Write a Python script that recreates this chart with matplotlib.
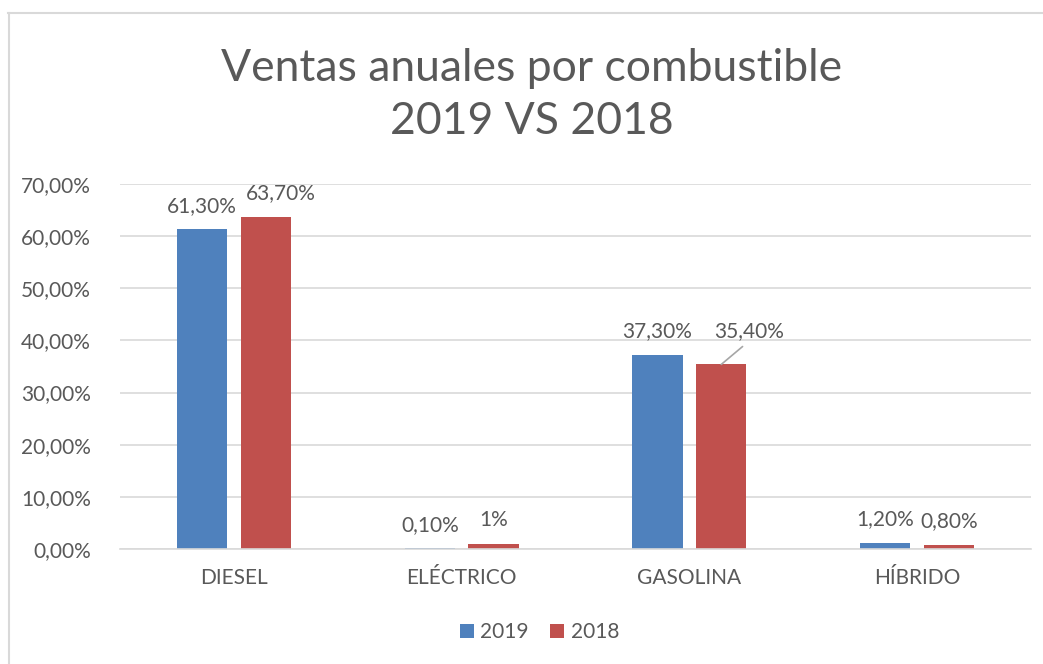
import numpy as np
import matplotlib.pyplot as plt
from matplotlib.lines import Line2D
from matplotlib.ticker import FuncFormatter

plt.rcParams['font.family'] = ['Lato', 'DejaVu Sans']

# Data
categories = ['DIESEL', 'ELÉCTRICO', 'GASOLINA', 'HÍBRIDO']
ventas_2019 = [61.3, 0.1, 37.3, 1.2]
ventas_2018 = [63.7, 1.0, 35.4, 0.8]
labels_2019 = ['61,30%', '0,10%', '37,30%', '1,20%']
labels_2018 = ['63,70%', '1%', '35,40%', '0,80%']

txt = '#595959'
blue = '#4F81BD'
red = '#C0504D'

fig = plt.figure(figsize=(10.43, 6.64), dpi=100)
ax = fig.add_axes([0.1151, 0.1732, 0.8734, 0.5497])

x = np.arange(len(categories))
w = 0.22
off = 0.14
b1 = ax.bar(x - off, ventas_2019, w, color=blue, label='2019', zorder=3)
b2 = ax.bar(x + off, ventas_2018, w, color=red, label='2018', zorder=3)

ax.set_xlim(-0.5, len(categories) - 0.5)
ax.set_ylim(0, 70)
ax.set_yticks(np.arange(0, 71, 10))
ax.yaxis.set_major_formatter(FuncFormatter(lambda v, p: f'{v:.2f}%'.replace('.', ',')))
ax.set_xticks(x)
ax.set_xticklabels(categories)
ax.tick_params(axis='both', length=0, labelsize=15, colors=txt)
ax.tick_params(axis='x', pad=14)
ax.tick_params(axis='y', pad=21)
ax.grid(axis='y', color='#D9D9D9', linewidth=1.2, zorder=0)
for s in ['top', 'right', 'left']:
    ax.spines[s].set_visible(False)
ax.spines['bottom'].set_color('#D9D9D9')
ax.spines['bottom'].set_linewidth(1.2)
ax.spines['bottom'].set_zorder(4)

# Data labels
for i in range(len(categories)):
    ax.annotate(labels_2019[i], (x[i] - off, ventas_2019[i]), xytext=(0, 17),
                textcoords='offset points', ha='center', va='center',
                fontsize=15, color=txt)
    if labels_2018[i] == '35,40%':
        ax.annotate(labels_2018[i], (x[i] + off, ventas_2018[i]), xytext=(20, 24),
                    textcoords='offset points', ha='center', va='center',
                    fontsize=15, color=txt,
                    arrowprops=dict(arrowstyle='-', color='#A6A6A6', lw=1.2,
                                    relpos=(0.5, 0), shrinkA=3, shrinkB=0))
    elif labels_2018[i] == '63,70%':
        ax.annotate(labels_2018[i], (x[i] + off, ventas_2018[i]), xytext=(11, 17),
                    textcoords='offset points', ha='center', va='center',
                    fontsize=15, color=txt)
    else:
        ax.annotate(labels_2018[i], (x[i] + off, ventas_2018[i]), xytext=(0, 17),
                    textcoords='offset points', ha='center', va='center',
                    fontsize=15, color=txt)

# Title
fig.text(0.510, 0.857, 'Ventas anuales por combustible\n2019 VS 2018', ha='center',
         va='center', fontsize=32, color=txt, linespacing=1.38)

# Legend
fig.legend(handles=[b1, b2], loc='center', bbox_to_anchor=(0.517, 0.048), ncol=2,
           frameon=False, fontsize=15, labelcolor=txt, handlelength=0.7,
           handleheight=0.7, handletextpad=0.3, columnspacing=1.0)

# Chart border (top and left edges visible)
fig.add_artist(Line2D([8 / 1043, 1], [1 - 12.5 / 664, 1 - 12.5 / 664], color='#D9D9D9',
                      lw=1.5, transform=fig.transFigure))
fig.add_artist(Line2D([8.5 / 1043, 8.5 / 1043], [0, 1 - 12.5 / 664], color='#D9D9D9',
                      lw=1.5, transform=fig.transFigure))

fig.savefig('out.png', dpi=100, facecolor='white')
